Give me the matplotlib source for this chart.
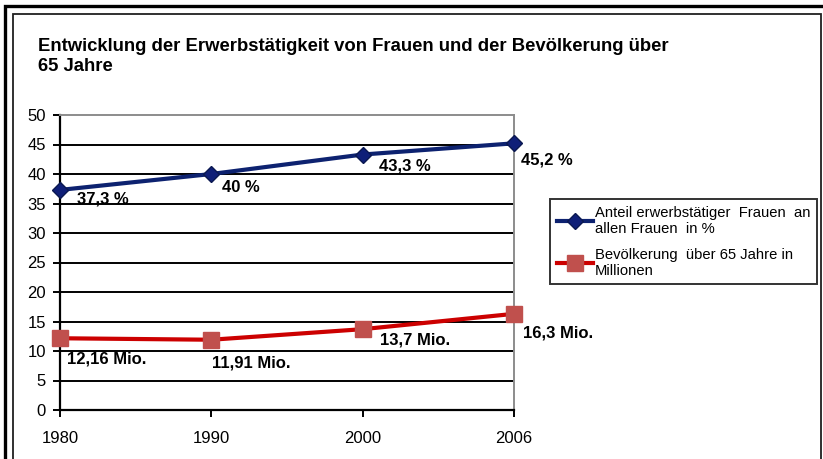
import matplotlib
matplotlib.use('Agg')
import matplotlib.pyplot as plt
from matplotlib.patches import Rectangle
import numpy as np

# ─── Data ───────────────────────────────────────────────────────────
years = ['1980', '1990', '2000', '2006']
frauen = [37.3, 40.0, 43.3, 45.2]
bevoelkerung = [12.16, 11.91, 13.7, 16.3]
frauen_labels = ['37,3 %', '40 %', '43,3 %', '45,2 %']
bev_labels = ['12,16 Mio.', '11,91 Mio.', '13,7 Mio.', '16,3 Mio.']

title = 'Entwicklung der Erwerbstätigkeit von Frauen und der Bevölkerung über\n65 Jahre'
leg_frauen = 'Anteil erwerbstätiger  Frauen  an\nallen Frauen  in %'
leg_bev = 'Bevölkerung  über 65 Jahre in\nMillionen'

# label offsets in pixels (dx, dy down)
off_frauen = [(17, 9), (11, 13), (16, 11), (7, 17)]
off_bev = [(7, 21), (1, 23), (17, 11), (9, 19)]

plt.rcParams.update({
    'font.family': ['Liberation Sans', 'DejaVu Sans'],
    'font.size': 11,
})

W, H = 823, 459
fig = plt.figure(figsize=(W / 100, H / 100), dpi=100)

# frames around the chart
fig.patches.append(Rectangle((5 / W, -0.1), 1.2, 1 - 6 / H + 0.1, transform=fig.transFigure,
                             fill=False, edgecolor='black', linewidth=2.4))
fig.patches.append(Rectangle((13 / W, -0.1), 808 / W, 1 - 14 / H + 0.1, transform=fig.transFigure,
                             fill=False, edgecolor='#202020', linewidth=1.3))

ax = fig.add_axes([60 / W, 1 - 410 / H, 454 / W, 295 / H])
x = np.arange(len(years))

ax.set_ylim(0, 50)
ax.set_xlim(0, len(years) - 1)
ax.set_yticks(np.arange(0, 51, 5))
ax.set_xticks(x)
ax.set_xticklabels(years)
for yv in range(5, 50, 5):
    ax.axhline(yv, color='black', linewidth=1.4, zorder=1)

ax.plot(x, frauen, color='#0D2270', linewidth=3, marker='D', markersize=8,
        markerfacecolor='#0F1F78', markeredgecolor='#0A1850', zorder=3,
        clip_on=False, label=leg_frauen)
ax.plot(x, bevoelkerung, color='#CC0000', linewidth=3, marker='s', markersize=11,
        markerfacecolor='#C0504D', markeredgecolor='#C0504D', zorder=3,
        clip_on=False, label=leg_bev)

for xi, v, t, (dx, dy) in zip(x, frauen, frauen_labels, off_frauen):
    ax.annotate(t, (xi, v), xytext=(dx, -dy), textcoords='offset pixels',
                ha='left', va='center', fontsize=12, fontweight='bold', zorder=4)
for xi, v, t, (dx, dy) in zip(x, bevoelkerung, bev_labels, off_bev):
    ax.annotate(t, (xi, v), xytext=(dx, -dy), textcoords='offset pixels',
                ha='left', va='center', fontsize=12, fontweight='bold', zorder=4)

for s in ['left', 'bottom']:
    ax.spines[s].set_color('black')
    ax.spines[s].set_linewidth(1.6)
for s in ['top', 'right']:
    ax.spines[s].set_color('#8C8C8C')
    ax.spines[s].set_linewidth(1.4)
ax.tick_params(axis='y', length=5, width=1.4, pad=5, labelsize=12)
ax.tick_params(axis='x', length=5, width=1.4, pad=10, labelsize=12)

fig.text(38 / W, 1 - 38 / H, title, ha='left', va='top', fontsize=13.3,
         fontweight='bold', linespacing=1.25)

leg = fig.legend(loc='upper left', bbox_to_anchor=(550 / W, 1 - 199 / H),
                 fontsize=10.6, frameon=True, fancybox=False, handlelength=2.5,
                 handletextpad=0.1, labelspacing=0.8, borderpad=0.45,
                 borderaxespad=0)
leg.get_frame().set_edgecolor('black')
leg.get_frame().set_linewidth(1.4)

plt.savefig('out.png', dpi=100, facecolor='white')
